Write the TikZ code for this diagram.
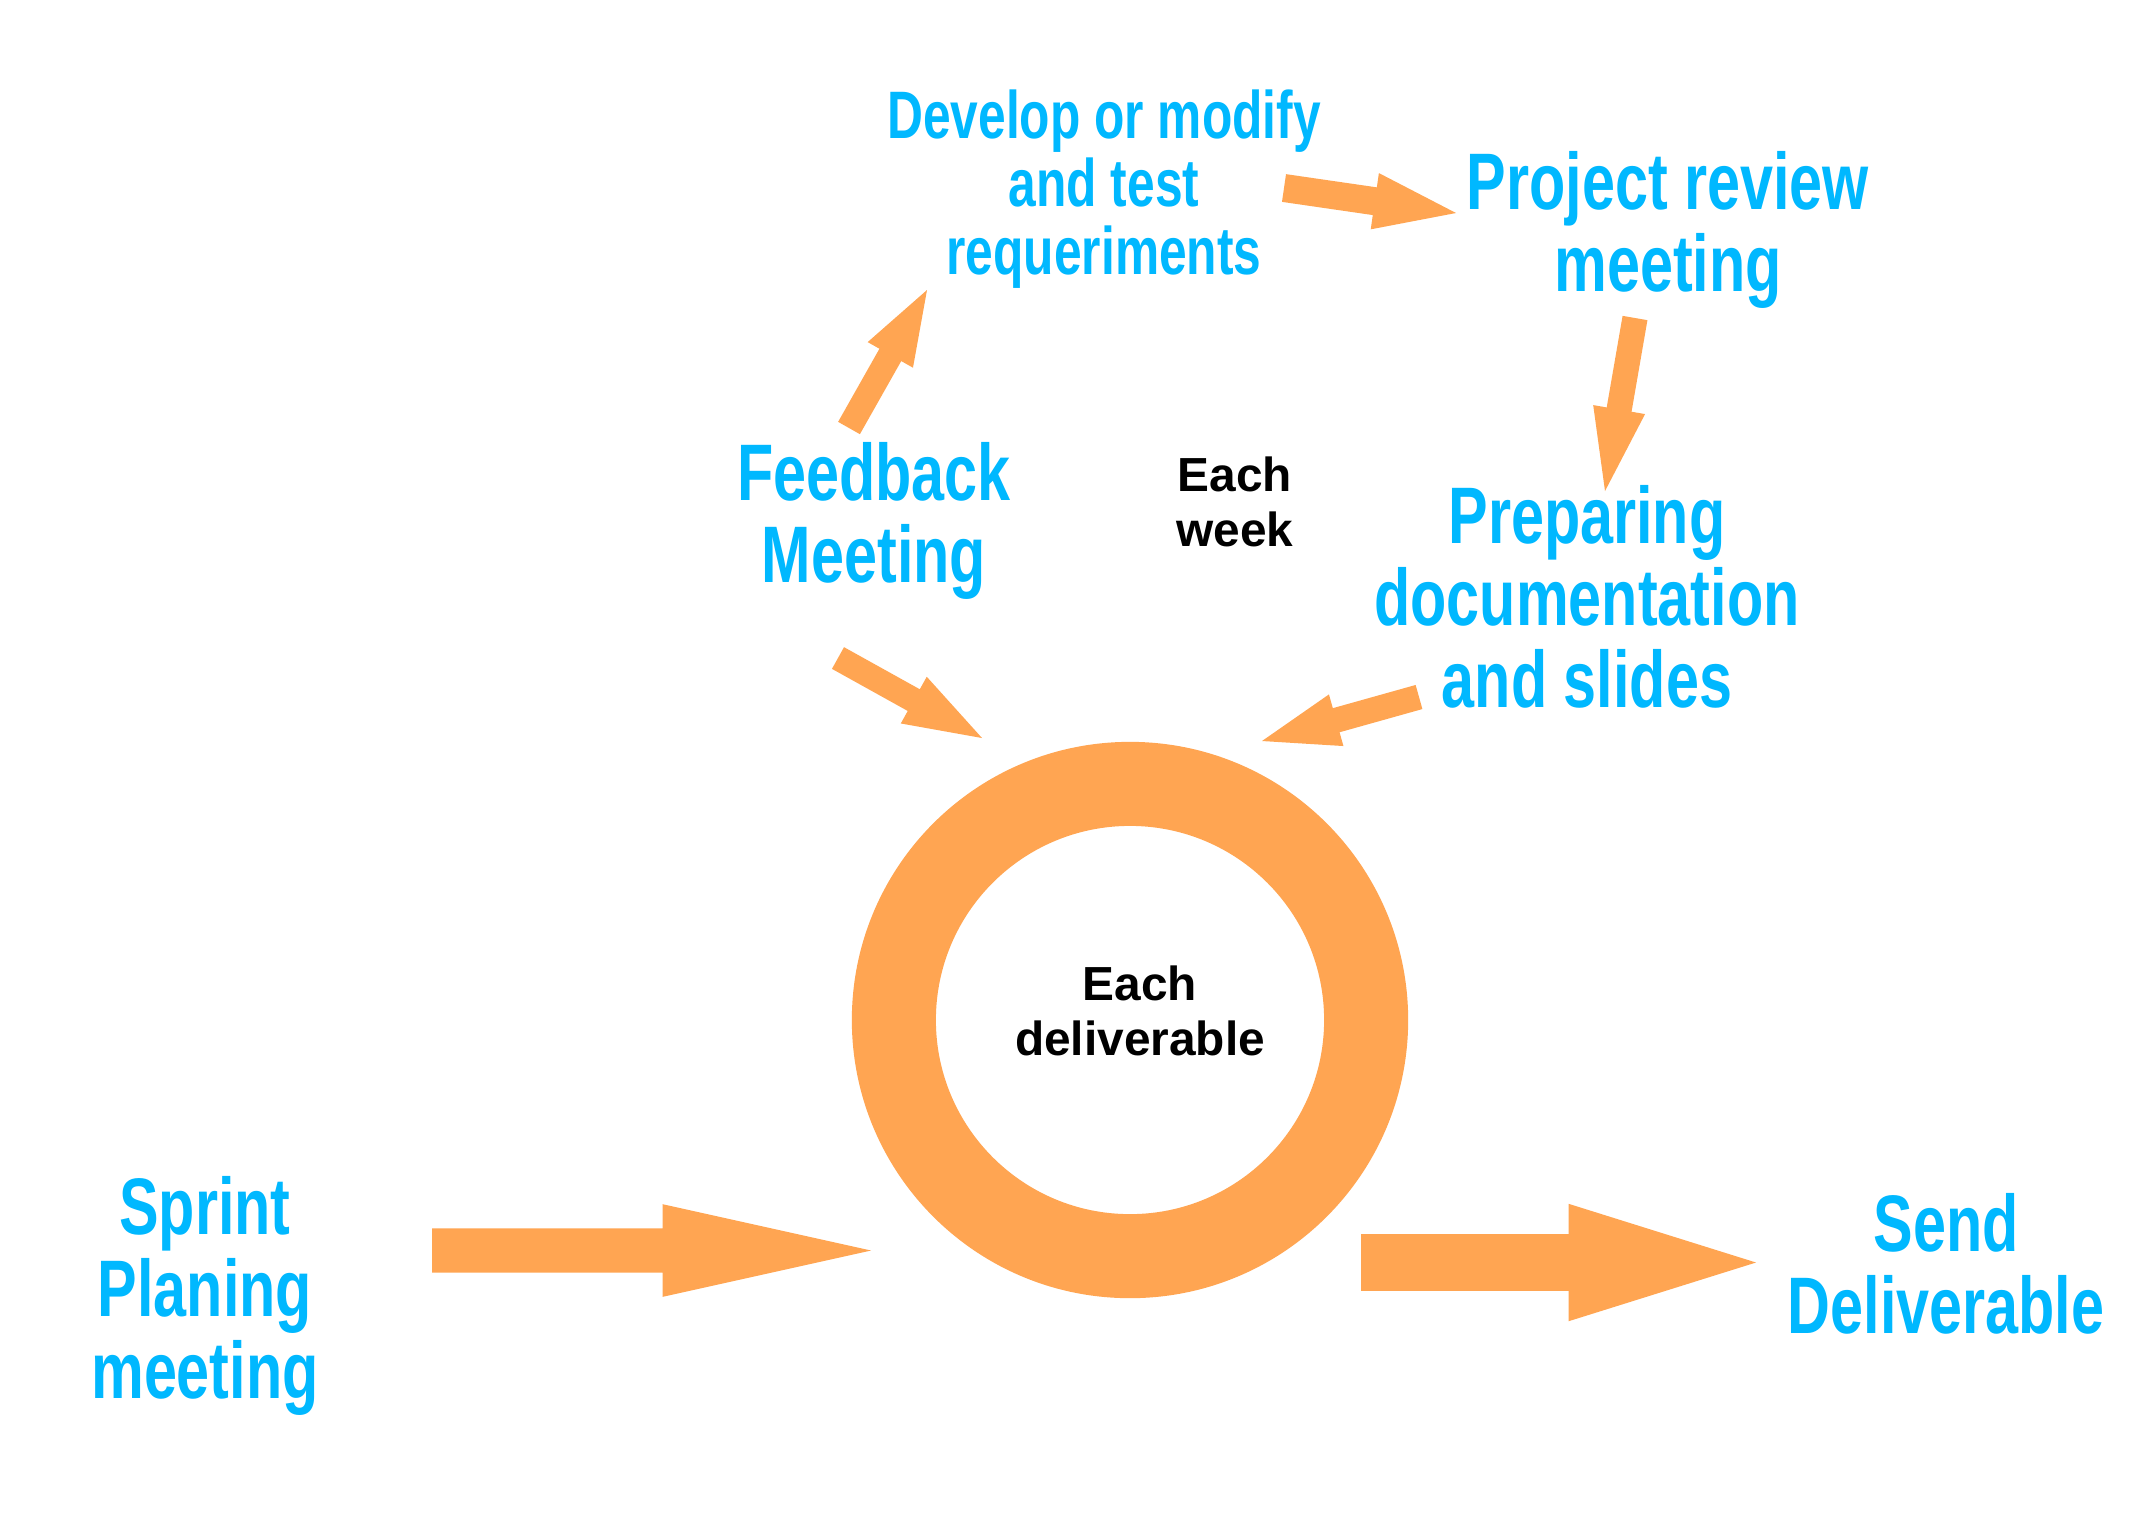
\documentclass[tikz,border=0pt]{standalone}
\usepackage{fontspec}
\usetikzlibrary{calc}

% condensed hand-lettered look for the step labels, plain bold sans for the period labels
\newfontfamily\handfont[FakeStretch=0.74]{Liberation Sans Bold}
\newfontfamily\periodfont{Liberation Sans Bold}

\definecolor{stepblue}{RGB}{0,184,255}
\definecolor{flowOrange}{RGB}{255,165,82}

% block arrow: #1 tail, #2 tip, #3 shaft half width, #4 head half width, #5 head length
\newcommand\blockarrow[5]{%
  \coordinate (ba-h) at ($(#2)!#5!(#1)$);
  \fill[flowOrange]
    ($(#1)!#3!90:(#2)$) -- ($(ba-h)!#3!90:(#2)$) -- ($(ba-h)!#4!90:(#2)$) --
    (#2) --
    ($(ba-h)!#4!-90:(#2)$) -- ($(ba-h)!#3!-90:(#2)$) -- ($(#1)!#3!-90:(#2)$) -- cycle;
}

\tikzset{
  steplabel/.style={text=stepblue, align=center, inner sep=0pt,
    font=\handfont\fontsize{22.8}{23.3}\selectfont},
  steplabelsmall/.style={steplabel,
    font=\handfont\fontsize{19.1}{19.4}\selectfont},
  periodlabel/.style={text=black, align=center, inner sep=0pt,
    font=\periodfont\fontsize{13.6}{15.6}\selectfont},
}

\begin{document}
\begin{tikzpicture}[x=0.01cm, y=-0.01cm]
  \fill[white] (0,0) rectangle (2130,1514);
  \useasboundingbox (0,0) rectangle (2130,1514);

  % the deliverable cycle ring
  \coordinate (ring) at (1130,1020);
  \fill[flowOrange, even odd rule] (ring) circle[radius=2.78cm] (ring) circle[radius=1.94cm];
  \node[periodlabel] (deliv) at (1140,1011) {Each\\deliverable};

  % weekly loop
  \node[periodlabel] (week) at (1235,502) {Each\\week};
  \node[steplabelsmall] (develop) at (1104,189) {Develop or modify\\and test\\requeriments};
  \node[steplabel] (review) at (1668,230) {Project review\\meeting};
  \node[steplabel] (feedback) at (874,521) {Feedback\\Meeting};
  \node[steplabel] (docs) at (1587,597) {Preparing\\documentation\\and slides};

  % sprint entry and exit
  \node[steplabel] (sprint) at (205,1296) {Sprint\\Planing\\meeting};
  \node[steplabel] (send) at (1946,1264) {Send\\Deliverable};

  % connector ends
  \coordinate (fb-out) at (849,428);   \coordinate (dev-in) at (927,290);
  \coordinate (dev-out) at (1284,188); \coordinate (rev-in) at (1456,213);
  \coordinate (rev-out) at (1635,318); \coordinate (doc-in) at (1605,491);
  \coordinate (doc-out) at (1419,697); \coordinate (ring-in-r) at (1262,741);
  \coordinate (fb-down) at (838,658);  \coordinate (ring-in-l) at (982,738);
  \coordinate (spr-out) at (432,1250.5); \coordinate (ring-in) at (871,1250.5);
  \coordinate (ring-out) at (1361,1262.5); \coordinate (send-in) at (1756,1262.5);

  \blockarrow{fb-out}{dev-in}{1.25mm}{2.6mm}{7.45mm}
  \blockarrow{dev-out}{rev-in}{1.4mm}{2.84mm}{8.2mm}
  \blockarrow{rev-out}{doc-in}{1.26mm}{2.63mm}{8.26mm}
  \blockarrow{doc-out}{ring-in-r}{1.25mm}{2.68mm}{7.7mm}
  \blockarrow{fb-down}{ring-in-l}{1.24mm}{2.67mm}{7.8mm}
  \blockarrow{spr-out}{ring-in}{2.22mm}{4.63mm}{20.83mm}
  \blockarrow{ring-out}{send-in}{2.83mm}{5.87mm}{18.74mm}
\end{tikzpicture}
\end{document}
